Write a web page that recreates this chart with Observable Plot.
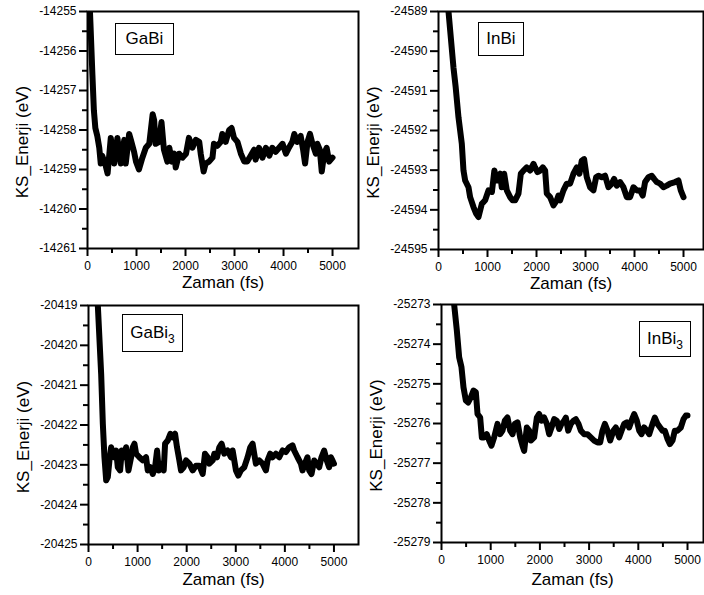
<!DOCTYPE html>
<html>
<head>
<meta charset="utf-8">
<script src="https://cdn.jsdelivr.net/npm/d3@7"></script>
<script src="https://cdn.jsdelivr.net/npm/@observablehq/plot@0.6"></script>
<style>
  body { margin: 0; background: #fff; }
  #chart { position: relative; width: 704px; height: 595px; overflow: hidden; background: #fff;
           font-family: "Liberation Sans", Arial, sans-serif; }
  #chart svg { position: absolute; }
  .legend { position: absolute; box-sizing: border-box; border: 1.5px solid #000; background: #fff;
            font-size: 17px; color: #000; display: flex; align-items: center; justify-content: center; }
  .legend sub { font-size: 12px; vertical-align: -5px; line-height: 0; }
</style>
</head>
<body>
<div id="chart"></div>
<script>
// ---------- shared axis values ----------
const xTicks = [0, 1000, 2000, 3000, 4000, 5000];
const xMinorTicks = [500, 1500, 2500, 3500, 4500];
const xTitle = "Zaman (fs)";
const yTitle = "KS_Enerji (eV)";

// ---------- GaBi ----------
const gabiYTicks = [-14261, -14260, -14259, -14258, -14257, -14256, -14255];
const gabiTime = [0,60,100,130,160,200,240,270,300,370,410,475,545,610,680,750,780,850,885,950,990,1050,1120,1190,1260,1330,1360,1390,1460,1510,1560,1630,1670,1720,1770,1800,1870,1940,2010,2070,2140,2210,2280,2310,2370,2410,2480,2550,2580,2650,2720,2750,2820,2890,2940,2990,3060,3130,3200,3260,3330,3400,3430,3500,3570,3640,3710,3770,3840,3910,3980,4050,4110,4180,4220,4280,4350,4400,4440,4490,4540,4590,4660,4690,4740,4780,4830,4880,4930,5000];
const gabiEnergy = [-14253.5,-14255.3,-14256.6,-14257.5,-14257.95,-14258.15,-14258.45,-14258.85,-14258.65,-14258.9,-14259.1,-14258.2,-14258.85,-14258.2,-14258.85,-14258.25,-14258.85,-14258.1,-14258.25,-14258.55,-14258.8,-14259.0,-14258.7,-14258.45,-14258.35,-14257.6,-14257.75,-14258.35,-14258.3,-14257.8,-14258.5,-14258.8,-14258.45,-14258.8,-14258.6,-14258.95,-14258.6,-14258.7,-14258.6,-14258.2,-14258.45,-14258.25,-14258.3,-14258.6,-14259.05,-14258.85,-14258.8,-14258.7,-14258.35,-14258.4,-14258.3,-14258.1,-14258.3,-14258.0,-14257.95,-14258.2,-14258.3,-14258.6,-14258.8,-14258.8,-14258.65,-14258.5,-14258.75,-14258.45,-14258.7,-14258.45,-14258.65,-14258.45,-14258.55,-14258.45,-14258.35,-14258.6,-14258.45,-14258.3,-14258.1,-14258.3,-14258.15,-14258.5,-14258.85,-14258.3,-14258.1,-14258.35,-14258.6,-14258.35,-14258.5,-14259.05,-14258.6,-14258.45,-14258.8,-14258.7];

// ---------- InBi ----------
const inbiYTicks = [-24595, -24594, -24593, -24592, -24591, -24590, -24589];
const inbiTime = [0,204,306,350,408,476,510,544,612,646,714,770,816,884,952,1020,1090,1140,1190,1260,1290,1340,1394,1462,1510,1564,1632,1680,1734,1800,1870,1938,1970,2020,2074,2128,2176,2210,2278,2346,2414,2448,2482,2550,2618,2686,2754,2822,2876,2924,2972,3026,3094,3162,3216,3264,3332,3400,3468,3536,3584,3638,3706,3774,3842,3910,3978,4046,4114,4168,4216,4284,4352,4400,4454,4522,4590,4658,4726,4828,4896,4944,5000];
const inbiEnergy = [-24586.0,-24589.0,-24590.42,-24590.9,-24591.67,-24592.34,-24593.01,-24593.26,-24593.43,-24593.68,-24593.93,-24594.10,-24594.18,-24593.85,-24593.76,-24593.51,-24593.55,-24593.01,-24593.26,-24593.09,-24593.43,-24593.09,-24593.51,-24593.68,-24593.76,-24593.76,-24593.59,-24593.09,-24593.01,-24592.93,-24593.01,-24592.84,-24592.93,-24593.05,-24593.01,-24592.93,-24593.01,-24593.59,-24593.68,-24593.89,-24593.76,-24593.64,-24593.76,-24593.51,-24593.34,-24593.34,-24593.09,-24592.93,-24593.09,-24592.76,-24592.72,-24593.18,-24593.43,-24593.51,-24593.18,-24593.14,-24593.18,-24593.14,-24593.43,-24593.34,-24593.22,-24593.39,-24593.30,-24593.43,-24593.68,-24593.68,-24593.43,-24593.51,-24593.51,-24593.64,-24593.30,-24593.18,-24593.14,-24593.22,-24593.30,-24593.34,-24593.43,-24593.39,-24593.34,-24593.30,-24593.26,-24593.51,-24593.68];

// ---------- GaBi3 ----------
const gabi3YTicks = [-20425, -20424, -20423, -20422, -20421, -20420, -20419];
const gabi3Time = [0,190,258,292,325,360,393,427,461,515,563,597,644,678,732,766,814,868,902,936,970,1037,1105,1173,1207,1261,1309,1356,1397,1431,1478,1532,1560,1614,1668,1715,1763,1803,1851,1885,1939,1987,2054,2122,2190,2258,2326,2373,2427,2461,2529,2563,2617,2665,2712,2766,2834,2902,2936,3004,3051,3105,3173,3241,3295,3343,3376,3410,3478,3546,3614,3648,3702,3749,3817,3885,3953,4020,4088,4156,4190,4258,4326,4360,4407,4461,4495,4543,4597,4651,4699,4746,4800,4854,4902,4936,4970,5000];
const gabi3Energy = [-20414.0,-20419.0,-20420.72,-20421.97,-20422.81,-20423.39,-20423.31,-20422.89,-20422.56,-20422.81,-20422.64,-20423.06,-20423.14,-20422.64,-20422.81,-20422.56,-20423.14,-20422.81,-20422.56,-20422.47,-20422.72,-20422.81,-20422.89,-20422.81,-20423.14,-20423.06,-20423.23,-20423.06,-20422.64,-20423.14,-20422.97,-20423.14,-20422.47,-20422.39,-20422.22,-20422.31,-20422.22,-20422.56,-20422.89,-20423.14,-20423.06,-20422.89,-20422.97,-20423.14,-20423.02,-20423.02,-20423.23,-20422.72,-20422.81,-20422.97,-20422.89,-20422.72,-20422.81,-20422.56,-20422.47,-20422.72,-20422.64,-20422.81,-20422.64,-20423.14,-20423.27,-20423.14,-20423.06,-20422.81,-20422.56,-20422.47,-20422.72,-20422.97,-20422.89,-20422.97,-20423.14,-20422.89,-20422.72,-20422.81,-20422.72,-20422.81,-20422.64,-20422.68,-20422.56,-20422.51,-20422.64,-20422.81,-20422.97,-20423.14,-20422.97,-20422.81,-20423.14,-20423.23,-20422.89,-20422.97,-20423.06,-20422.81,-20422.64,-20422.89,-20423.06,-20422.81,-20422.89,-20422.97];

// ---------- InBi3 ----------
const inbi3YTicks = [-25279, -25278, -25277, -25276, -25275, -25274, -25273];
const inbi3Time = [0,257,312,359,406,447,495,542,596,650,698,732,786,820,867,921,969,1016,1070,1138,1192,1240,1287,1341,1396,1443,1491,1545,1599,1646,1680,1734,1782,1816,1883,1938,1985,2033,2087,2141,2188,2236,2290,2344,2392,2439,2493,2527,2575,2629,2683,2730,2785,2832,2900,2967,3035,3103,3171,3225,3272,3320,3374,3428,3496,3543,3611,3659,3713,3767,3814,3862,3916,3970,4018,4065,4119,4173,4221,4289,4336,4390,4444,4492,4539,4594,4641,4695,4742,4797,4864,4919,4966,5000];
const inbi3Energy = [-25269.0,-25273.0,-25273.66,-25274.33,-25274.58,-25275.09,-25275.42,-25275.47,-25275.34,-25275.17,-25275.21,-25275.76,-25275.85,-25276.35,-25276.35,-25276.27,-25276.43,-25276.56,-25276.35,-25276.01,-25276.27,-25276.18,-25275.93,-25275.85,-25276.18,-25276.27,-25276.01,-25275.97,-25276.35,-25276.56,-25276.69,-25276.10,-25276.18,-25276.43,-25276.35,-25275.85,-25275.76,-25275.93,-25275.85,-25276.01,-25276.27,-25276.10,-25275.89,-25275.93,-25276.14,-25276.01,-25275.93,-25275.85,-25276.18,-25276.01,-25275.93,-25275.89,-25276.01,-25276.18,-25276.27,-25276.27,-25276.35,-25276.43,-25276.48,-25276.48,-25276.18,-25276.01,-25276.18,-25276.43,-25276.18,-25276.10,-25276.35,-25276.18,-25276.01,-25275.97,-25276.10,-25275.93,-25275.76,-25275.93,-25276.18,-25276.27,-25276.10,-25276.18,-25276.27,-25276.01,-25275.85,-25276.01,-25276.10,-25276.18,-25276.18,-25276.39,-25276.52,-25276.43,-25276.18,-25276.18,-25276.10,-25275.89,-25275.80,-25275.80];

const chart = document.getElementById("chart");
const fontFamily = "'Liberation Sans', Arial, sans-serif";

function panel(cfg) {
  const data = cfg.time.map((t, i) => ({t, e: cfg.energy[i]}));
  const yMinor = cfg.yTicks.slice(0, -1).map(v => v + 0.5);
  const svg = Plot.plot({
    width: cfg.width, height: cfg.height,
    marginLeft: cfg.ml, marginRight: cfg.mr, marginTop: cfg.mt, marginBottom: cfg.mb,
    x: {domain: [0, cfg.xMax]},
    y: {domain: [cfg.yTicks[0], cfg.yTicks[cfg.yTicks.length - 1]]},
    style: {fontFamily, background: "transparent", overflow: "visible", color: "#000"},
    marks: [
      Plot.line(data, {x: "t", y: "e", stroke: "#000", strokeWidth: 6,
        strokeLinejoin: "round", strokeLinecap: "round", clip: true}),
      Plot.frame({stroke: "#000", strokeWidth: 2}),
      Plot.axisX({ticks: xTicks, tickSize: 8, tickPadding: 5, strokeWidth: 2, fontSize: 12,
        tickFormat: d => String(d), label: null}),
      Plot.axisX({ticks: xMinorTicks, tickSize: 5, strokeWidth: 2, tickFormat: () => "", label: null}),
      Plot.axisY({ticks: cfg.yTicks, tickSize: 8, tickPadding: 3, strokeWidth: 2, fontSize: 12,
        tickFormat: d => String(d), label: null}),
      Plot.axisY({ticks: yMinor, tickSize: 5, strokeWidth: 2, tickFormat: () => "", label: null}),
      Plot.text([yTitle], {text: d => d, frameAnchor: "left", textAnchor: "middle", lineAnchor: "middle",
        rotate: -90, dx: -65, dy: 12, fontSize: 17}),
      Plot.text([xTitle], {text: d => d, frameAnchor: "bottom", textAnchor: "middle", lineAnchor: "middle",
        dy: cfg.xTitleDy, fontSize: 17})
    ]
  });
  svg.style.left = cfg.left + "px";
  svg.style.top = cfg.top + "px";
  chart.appendChild(svg);

  const lg = document.createElement("div");
  lg.className = "legend";
  lg.innerHTML = "<span>" + cfg.legend + "</span>";
  Object.assign(lg.style, {left: cfg.lg[0] + "px", top: cfg.lg[1] + "px",
    width: cfg.lg[2] + "px", height: cfg.lg[3] + "px"});
  chart.appendChild(lg);
}

panel({time: gabiTime, energy: gabiEnergy, yTicks: gabiYTicks, xMax: 5530,
  left: 0, top: 0, width: 360, height: 295, ml: 87, mr: 2, mt: 11, mb: 47, xTitleDy: 34,
  legend: "GaBi", lg: [115, 23, 59, 32]});
panel({time: inbiTime, energy: inbiEnergy, yTicks: inbiYTicks, xMax: 5408,
  left: 352, top: 0, width: 352, height: 295, ml: 86, mr: 1, mt: 11, mb: 46, xTitleDy: 34,
  legend: "InBi", lg: [478, 22, 46, 34]});
panel({time: gabi3Time, energy: gabi3Energy, yTicks: gabi3YTicks, xMax: 5500,
  left: 0, top: 295, width: 360, height: 300, ml: 88, mr: 2, mt: 10, mb: 51, xTitleDy: 35,
  legend: "GaBi<sub>3</sub>", lg: [122, 314, 61, 38]});
panel({time: inbi3Time, energy: inbi3Energy, yTicks: inbi3YTicks, xMax: 5325,
  left: 352, top: 295, width: 352, height: 300, ml: 89, mr: 1, mt: 9, mb: 53, xTitleDy: 37,
  legend: "InBi<sub>3</sub>", lg: [639, 321, 52, 36]});
</script>
</body>
</html>
